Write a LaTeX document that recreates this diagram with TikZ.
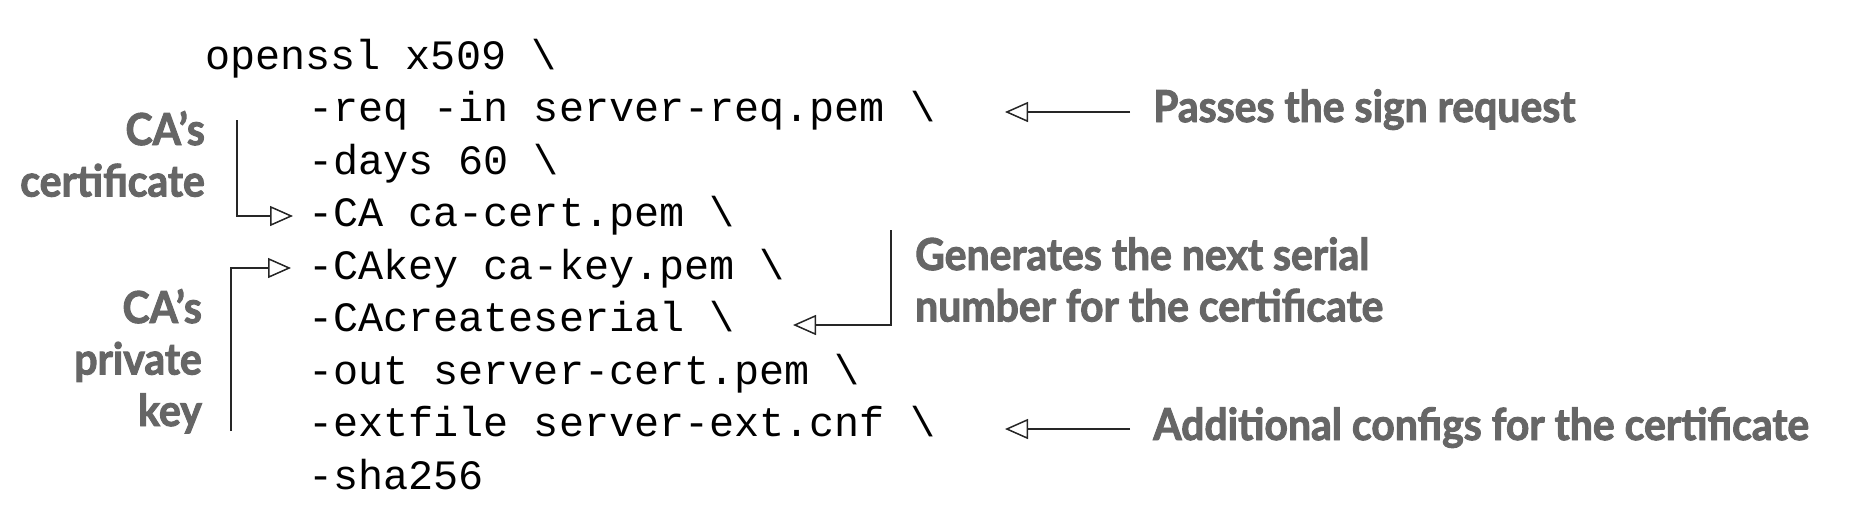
\documentclass[tikz,border=0pt]{standalone}
\usepackage{fontspec}
\setmonofont{Liberation Mono}
\newfontfamily\latofam[FakeStretch=0.93,FakeBold=2.2]{Lato}
\usetikzlibrary{arrows.meta}
\definecolor{anngray}{HTML}{666666}
\newcommand\cdfont{\ttfamily\fontsize{41.8pt}{52.5pt}\selectfont}
\newcommand\anfont{\latofam\bfseries\fontsize{44pt}{51.5pt}\selectfont}
\begin{document}
\begin{tikzpicture}[x=1pt,y=-1pt,
  code/.style={anchor=base west, inner sep=0pt, font=\cdfont},
  ann/.style={inner sep=0pt, font=\anfont, text=anngray},
  conn/.style={line width=1.5pt, draw=black!85, line join=miter,
    -{Triangle[open,length=23pt,width=20pt,fill=white]}}]
\useasboundingbox (0,0) rectangle (1854,504);
% code lines
\node[code] (l0) at (205,69)    {openssl x509 \textbackslash};
\node[code] (l1) at (308,121.5) {-req -in server-req.pem \textbackslash};
\node[code] (l2) at (308,174)   {-days 60 \textbackslash};
\node[code] (l3) at (308,226.5) {-CA ca-cert.pem \textbackslash};
\node[code] (l4) at (308,279)   {-CAkey ca-key.pem \textbackslash};
\node[code] (l5) at (308,331.5) {-CAcreateserial \textbackslash};
\node[code] (l6) at (308,384)   {-out server-cert.pem \textbackslash};
\node[code] (l7) at (308,436.5) {-extfile server-ext.cnf \textbackslash};
\node[code] (l8) at (308,489)   {-sha256};
% annotations
\node[ann, anchor=base east] (cacert) at (205,145)
  {\begin{tabular}[t]{@{}r@{}}CA’s\\certificate\end{tabular}};
\node[ann, anchor=base east] (cakey) at (202,323)
  {\begin{tabular}[t]{@{}r@{}}CA’s\\private\\key\end{tabular}};
\node[ann, anchor=base west] (pass) at (1153,122) {Passes the sign request};
\node[ann, anchor=base west] (gen) at (915,270)
  {\begin{tabular}[t]{@{}l@{}}Generates the next serial\\number for the certificate\end{tabular}};
\node[ann, anchor=base west] (add) at (1153,440) {Additional configs for the certificate};
% connector ends
\coordinate (cs1) at (237,120);  \coordinate (ce1) at (293,216);
\coordinate (cs2) at (231,431);  \coordinate (ce2) at (291,268);
\coordinate (ps) at (1130,112);  \coordinate (pe) at (1005,112);
\coordinate (gs) at (891,230);   \coordinate (ge) at (793,325);
\coordinate (as) at (1130,429);  \coordinate (ae) at (1005,429);
\draw[conn] (cs1) |- (ce1);
\draw[conn] (cs2) |- (ce2);
\draw[conn] (ps) -- (pe);
\draw[conn] (gs) |- (ge);
\draw[conn] (as) -- (ae);
\end{tikzpicture}
\end{document}
